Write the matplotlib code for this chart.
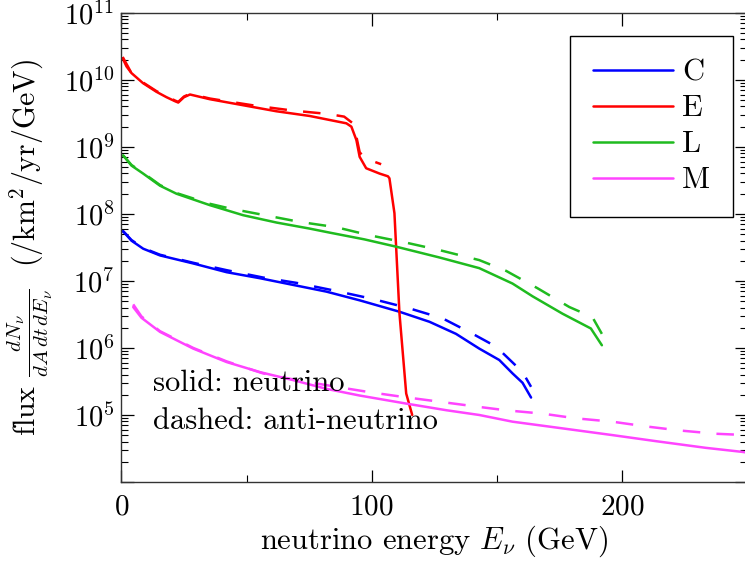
import numpy as np
import matplotlib
matplotlib.use('Agg')
import matplotlib.pyplot as plt
from matplotlib.ticker import LogLocator, MultipleLocator, LogFormatterSciNotation

plt.rcParams['font.family'] = 'serif'
plt.rcParams['font.serif'] = ['cmr10']
plt.rcParams['mathtext.fontset'] = 'cm'
plt.rcParams['axes.formatter.use_mathtext'] = True

# energies (GeV) and log10 flux
e_C_nu = [0.5, 1.4, 4, 8.7, 15.4, 28.7, 42, 55.3, 68.6, 81.9, 95.2, 111.1, 123.1, 133.7, 143, 151, 156.3, 160.3, 163.7]
lf_C_nu = [7.74, 7.71, 7.60, 7.48, 7.38, 7.26, 7.13, 7.04, 6.94, 6.84, 6.71, 6.54, 6.39, 6.21, 5.99, 5.82, 5.62, 5.48, 5.26]
e_C_anu = [0.5, 4, 8.7, 15.4, 28.7, 42, 56.6, 70, 84.5, 100.5, 115.1, 128.4, 140.4, 149.7, 155, 160.3, 163.7]
lf_C_anu = [7.75, 7.61, 7.49, 7.39, 7.27, 7.16, 7.05, 6.97, 6.86, 6.73, 6.59, 6.44, 6.21, 6.02, 5.83, 5.64, 5.42]

e_E_nu = [0.5, 2, 4, 8.6, 14, 18, 21.4, 22.7, 25, 27.4, 35.3, 48.6, 61.9, 75.2, 83.2, 89.9, 91.9, 93.9,
          95.2, 97.8, 103.2, 106.5, 107.1, 109.1, 111.1, 113.8, 116.2]
lf_E_nu = [10.32, 10.2, 10.1, 9.95, 9.82, 9.74, 9.68, 9.66, 9.74, 9.78, 9.71, 9.62, 9.53, 9.46, 9.40, 9.35, 9.30, 9.10,
           8.85, 8.68, 8.60, 8.56, 8.53, 8.01, 6.52, 5.32, 5.0]
e_E_anu = [0.5, 4, 8.6, 14, 21.4, 22.7, 25, 27.4, 35.3, 42, 54, 68.5, 82.5, 89, 92.5, 93.9, 95.2, 97.2, 103.8]
lf_E_anu = [10.34, 10.1, 9.96, 9.83, 9.69, 9.67, 9.75, 9.79, 9.72, 9.68, 9.61, 9.54, 9.49, 9.45, 9.35, 9.15, 8.92, 8.83, 8.74]

e_L_nu = [0.5, 1.4, 4, 8.7, 15.4, 22, 35.3, 48.6, 62, 75.2, 83.2, 97, 109.8, 127, 143, 156.3, 164.3, 176.3, 187.6, 192]
lf_L_nu = [8.87, 8.84, 8.72, 8.60, 8.42, 8.30, 8.13, 7.98, 7.87, 7.78, 7.72, 7.62, 7.51, 7.35, 7.19, 6.96, 6.77, 6.51, 6.29, 6.04]
e_L_anu = [0.5, 4, 8.7, 15.4, 22, 35.3, 43.3, 57.3, 71.2, 85.9, 99.2, 113.8, 127, 143, 153.7, 166.3, 179, 188.2, 192]
lf_L_anu = [8.88, 8.73, 8.61, 8.43, 8.31, 8.15, 8.08, 7.98, 7.88, 7.80, 7.68, 7.57, 7.46, 7.31, 7.15, 6.89, 6.61, 6.46, 6.21]

e_M_nu = [4.7, 8, 15.4, 28.7, 42, 55.3, 68.6, 81.9, 95.2, 113.8, 130, 143, 156.3, 176.3, 196.2, 213.5, 233.5, 248, 250]
lf_M_nu = [6.61, 6.45, 6.24, 5.99, 5.79, 5.64, 5.52, 5.39, 5.29, 5.17, 5.07, 5.00, 4.90, 4.80, 4.70, 4.61, 4.51, 4.45, 4.44]
e_M_anu = [4.7, 8, 15.4, 28.7, 42, 56.6, 70, 85.9, 99.2, 112.4, 143, 153.7, 168.3, 181.6, 196.2, 209.5, 222.8, 237.5, 250]
lf_M_anu = [6.65, 6.47, 6.25, 6.0, 5.80, 5.62, 5.52, 5.42, 5.34, 5.27, 5.12, 5.07, 5.02, 4.95, 4.90, 4.83, 4.77, 4.72, 4.70]

series = [
    ('C', '#0000ff', e_C_nu, lf_C_nu, e_C_anu, lf_C_anu),
    ('E', '#ff0000', e_E_nu, lf_E_nu, e_E_anu, lf_E_anu),
    ('L', '#1fbb1f', e_L_nu, lf_L_nu, e_L_anu, lf_L_anu),
    ('M', '#ff44ff', e_M_nu, lf_M_nu, e_M_anu, lf_M_anu),
]

fig = plt.figure(figsize=(7.45, 5.62), dpi=100)
ax = fig.add_axes([0.163, 0.1423, 0.8397, 0.8351])

lw = 1.8
for name, col, e1, l1, e2, l2 in series:
    ax.plot(e1, 10 ** np.array(l1), color=col, lw=lw, label=name, solid_capstyle='round')
    ax.plot(e2, 10 ** np.array(l2), color=col, lw=lw, ls=(0, (7, 6.5)))

ax.set_yscale('log')
ax.set_xlim(0, 250)
ax.set_ylim(1e4, 1e11)
ax.xaxis.set_major_locator(MultipleLocator(100))
ax.xaxis.set_minor_locator(MultipleLocator(50))
ax.yaxis.set_major_locator(LogLocator(base=10, numticks=20))
ax.yaxis.set_minor_locator(LogLocator(base=10, subs=np.arange(2, 10), numticks=20))
sci = LogFormatterSciNotation()
ax.yaxis.set_major_formatter(lambda v, p: '' if v < 5e4 else sci(v, p))
ax.tick_params(which='both', direction='in', top=True, right=True)
ax.tick_params(axis='y', labelsize=20.5)
ax.tick_params(axis='x', labelsize=21, pad=9)
ax.tick_params(which='major', length=9, width=0.9)
ax.tick_params(axis='y', which='major', pad=5)
ax.tick_params(which='minor', length=5, width=0.8)
for s in ax.spines.values():
    s.set_linewidth(1.0)
    s.set_color('#333333')

ax.set_xlabel(r'neutrino energy $E_\nu$ (GeV)', fontsize=22, labelpad=2)
ax.set_ylabel(r'flux $\frac{dN_\nu}{dA\,dt\,dE_\nu}$  (/km$^2$/yr/GeV)', fontsize=21.5, labelpad=6)

ax.text(0.0505, 0.211, 'solid: neutrino', transform=ax.transAxes, fontsize=22, va='center')
ax.text(0.0505, 0.130, 'dashed: anti-neutrino', transform=ax.transAxes, fontsize=22, va='center')

leg = ax.legend(loc='upper right', bbox_to_anchor=(0.9776, 0.9504), borderaxespad=0,
                fontsize=22, fancybox=False, edgecolor='black', framealpha=1,
                handlelength=2.6, labelspacing=0.28, borderpad=0.75, handletextpad=0.3)
leg.get_frame().set_linewidth(1.0)

fig.savefig('out.png', dpi=100)
